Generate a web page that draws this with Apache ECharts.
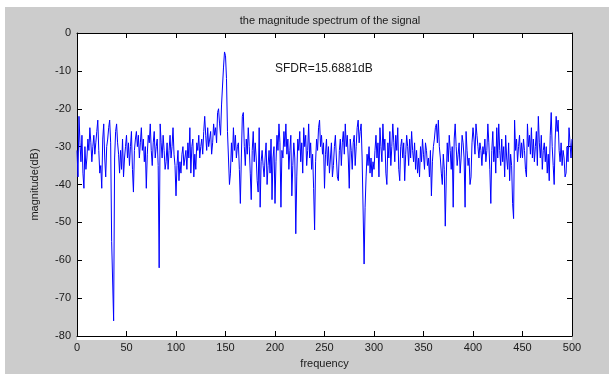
<!DOCTYPE html>
<html>
<head>
<meta charset="utf-8">
<script src="https://cdn.jsdelivr.net/npm/echarts@6/dist/echarts.min.js"></script>
<style>
html,body{margin:0;padding:0;background:#ffffff;}
#chart{width:610px;height:374px;}
</style>
</head>
<body>
<div id="chart"></div>
<script>
// Chart text
const titleText = 'the magnitude spectrum of the signal';
const xName = 'frequency';
const yName = 'magnitude(dB)';
const annotation = 'SFDR=15.6881dB';

// Axis ticks
const xTicks = [0, 50, 100, 150, 200, 250, 300, 350, 400, 450, 500];
const yTicks = [0, -10, -20, -30, -40, -50, -60, -70, -80];

// Frequency step between samples
const freqStep = 1;

// Magnitude (dB) per frequency bin, 0..500
const magnitude = [
  -31,-38,-22,-29,-34,-27,-37,-41,-30,-36,
  -33,-28,-31,-25,-29,-34,-30,-27,-32,-29,
  -26,-23,-31,-37,-35,-41,-28,-24,-33,-38,
  -30,-28,-25,-23,-29,-55,-55,-76,-33,-26,
  -24,-29,-32,-37,-31,-36,-28,-38,-33,-30,
  -27,-33,-29,-35,-30,-26,-36,-42,-31,-28,
  -26,-30,-27,-33,-29,-25,-31,-28,-34,-30,
  -41,-32,-27,-29,-24,-31,-35,-29,-26,-33,
  -30,-28,-35,-62,-24,-29,-33,-27,-31,-36,
  -34,-29,-36,-31,-27,-33,-30,-25,-32,-35,
  -43,-35,-31,-39,-34,-37,-32,-30,-35,-33,
  -31,-36,-29,-33,-25,-37,-30,-28,-38,-32,
  -36,-29,-31,-27,-33,-30,-28,-32,-26,-22,
  -27,-31,-25,-30,-28,-26,-32,-29,-24,-27,
  -25,-29,-21,-20,-24,-27,-19,-14,-9,-5,
  -6,-12,-26,-33,-40,-37,-29,-34,-25,-31,
  -27,-33,-30,-29,-36,-45,-33,-22,-21,-30,
  -35,-28,-32,-25,-30,-37,-44,-31,-26,-34,
  -29,-33,-39,-42,-25,-46,-34,-31,-35,-38,
  -33,-29,-40,-35,-31,-37,-28,-44,-33,-30,
  -45,-34,-27,-31,-24,-29,-46,-31,-33,-26,
  -30,-24,-32,-28,-36,-31,-27,-43,-35,-29,
  -33,-53,-38,-28,-31,-26,-34,-29,-37,-25,
  -30,-27,-35,-31,-24,-33,-29,-36,-32,-41,
  -52,-34,-28,-31,-25,-23,-30,-27,-32,-29,
  -41,-32,-28,-35,-30,-37,-33,-29,-38,-35,
  -30,-27,-33,-38,-39,-31,-28,-35,-29,-26,
  -32,-24,-30,-27,-33,-41,-28,-31,-36,-29,
  -27,-35,-30,-25,-23,-29,-26,-24,-33,-47,
  -61,-46,-38,-32,-35,-30,-37,-33,-38,-34,
  -36,-31,-27,-33,-29,-38,-25,-30,-34,-24,
  -31,-28,-37,-40,-29,-33,-26,-35,-30,-24,
  -29,-34,-27,-31,-25,-36,-39,-30,-28,-33,
  -29,-39,-32,-27,-30,-35,-28,-33,-26,-31,
  -34,-29,-36,-31,-37,-33,-38,-30,-34,-28,
  -32,-36,-29,-31,-35,-33,-38,-31,-43,-34,
  -30,-28,-25,-24,-29,-23,-30,-33,-37,-40,
  -32,-36,-51,-38,-29,-34,-27,-31,-36,-30,
  -46,-28,-24,-30,-35,-32,-29,-37,-33,-27,
  -29,-33,-46,-26,-31,-35,-33,-40,-38,-29,
  -25,-28,-32,-24,-27,-30,-33,-29,-31,-35,
  -30,-32,-28,-34,-31,-24,-29,-36,-45,-31,
  -26,-34,-30,-37,-25,-33,-24,-31,-35,-28,
  -34,-30,-38,-27,-33,-36,-29,-39,-32,-35,
  -45,-49,-23,-31,-28,-34,-30,-27,-33,-29,
  -33,-28,-31,-36,-38,-24,-30,-27,-32,-25,
  -33,-28,-34,-30,-26,-35,-22,-29,-33,-27,
  -36,-31,-29,-34,-30,-37,-32,-39,-27,-21,
  -30,-35,-40,-28,-22,-26,-23,-31,-34,-29,
  -35,-31,-33,-38,-37,-30,-34,-25,-29,-33,
  -28
];

const seriesData = magnitude.map((v, i) => [i * freqStep, v]);

const chart = echarts.init(document.getElementById('chart'), null, {renderer: 'canvas'});
const FONT = 'Liberation Sans, Arial, sans-serif';
const textCol = '#1a1a1a';

const axisCommon = {
  axisLine: {show: true, onZero: false, lineStyle: {color: '#000', width: 1}},
  axisTick: {show: true, inside: true, length: 5, lineStyle: {color: '#000'}},
  splitLine: {show: false}
};

chart.setOption({
  animation: false,
  backgroundColor: 'transparent',
  graphic: [
    {type: 'rect', z: -10, silent: true, shape: {x: 5, y: 7, width: 604, height: 367}, style: {fill: '#cccccc'}},
    {type: 'rect', z: -5, silent: true, shape: {x: 77, y: 33, width: 495, height: 307}, style: {fill: '#ffffff'}},
    {type: 'text', left: 275, top: 63, z: 10, style: {text: annotation, font: '12px ' + FONT, fill: textCol}}
  ],
  title: {
    text: titleText,
    left: 325, top: 10, textAlign: 'center',
    textStyle: {fontSize: 11, fontWeight: 'normal', color: textCol, fontFamily: FONT}
  },
  grid: {left: 77, right: 38, top: 33, bottom: 34, containLabel: false},
  xAxis: [
    Object.assign({
      type: 'value', min: 0, max: 500, interval: 50, position: 'bottom',
      name: xName, nameLocation: 'middle', nameGap: 22,
      nameTextStyle: {fontSize: 11, color: textCol, fontFamily: FONT},
      axisLabel: {fontSize: 11, color: textCol, fontFamily: FONT, margin: 6,
        formatter: v => xTicks.includes(v) ? String(v) : ''}
    }, axisCommon),
    Object.assign({
      type: 'value', min: 0, max: 500, interval: 50, position: 'top',
      axisLabel: {show: false}
    }, axisCommon)
  ],
  yAxis: [
    Object.assign({
      type: 'value', min: -80, max: 0, interval: 10, position: 'left',
      name: yName, nameLocation: 'middle', nameGap: 37,
      nameTextStyle: {fontSize: 11, color: textCol, fontFamily: FONT},
      axisLabel: {fontSize: 11, color: textCol, fontFamily: FONT, margin: 6,
        formatter: v => yTicks.includes(v) ? String(v) : ''}
    }, axisCommon),
    Object.assign({
      type: 'value', min: -80, max: 0, interval: 10, position: 'right',
      axisLabel: {show: false}
    }, axisCommon)
  ],
  series: [{
    type: 'line',
    xAxisIndex: 0, yAxisIndex: 0,
    data: seriesData,
    showSymbol: false,
    symbol: 'none',
    lineStyle: {color: '#0000ff', width: 1},
    clip: true
  }]
});
</script>
</body>
</html>
